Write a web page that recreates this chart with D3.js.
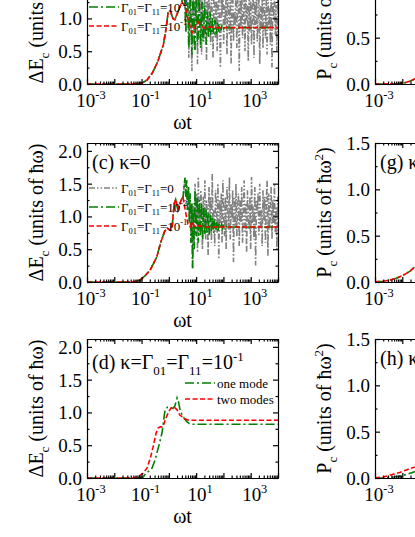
<!DOCTYPE html>
<html><head><meta charset="utf-8">
<script src="https://cdn.jsdelivr.net/npm/d3@7"></script>
<style>body{margin:0;background:#fff}svg{display:block}</style>
</head><body>
<script>
// ---------------- DATA ----------------
const xTickExps = [-3, -1, 1, 3];
const yTicksLeft = [0, 0.5, 1, 1.5, 2];
const yMinorLeft = [0.25, 0.75, 1.25, 1.75];
const yTicksRight = [0, 0.5, 1, 1.5];
const yMinorRight = [0.25, 0.75, 1.25];

// panel (b)
const bCommon = [[0.001,0],[0.05,0],[0.08,0.005],[0.1,0.01],[0.158,0.06],[0.251,0.17],[0.398,0.35],[0.631,0.6],[0.794,0.85],[0.933,1.08],[1.12,1.12],[1.41,1.0],[1.66,0.98],[2.24,1.12],[3.02,1.25]];
const bRedTail = [[3.98,1.18],[5.25,0.95],[7.08,0.78],[8.91,0.86],[11.2,0.96],[14.1,0.9],[20,0.85],[31.6,0.87],[50,0.86],[10000,0.86]];
const bGreenTail = [[3.3,1.4],[3.6,1.6],[3.9,1.2],[4.2,0.8],[4.5,1.35],[4.8,1.65],[5.1,1.0],[5.4,0.55],[5.8,1.1],[6.2,1.5],[6.6,0.8],[7.0,0.45],[7.5,1.2],[8.0,1.45],[8.5,0.7],[9.1,0.5],[9.7,1.3],[10.4,1.25],[11.1,0.6],[11.9,0.75],[12.7,1.35],[13.6,1.0],[14.5,0.55],[15.5,1.05],[16.6,1.25],[17.8,0.65],[19.0,0.8],[20.3,1.2],[21.7,0.9],[23.2,0.6],[24.8,1.1],[26.5,1.05],[28.4,0.7],[30.3,0.85],[32.4,1.1],[34.7,0.75],[37.1,0.8],[39.7,1.02],[42.4,0.8],[45.4,0.78],[48.6,0.98],[52,0.88],[55.6,0.76],[59.5,0.95],[63.6,0.9],[68,0.8],[72.8,0.9],[77.9,0.88],[83.3,0.82],[89.1,0.9],[95.3,0.86],[102,0.84],[115,0.88],[130,0.86],[160,0.86],[10000,0.86]];
const bGrayHead = [[3.3,1.4],[3.6,1.6],[3.9,1.2],[4.2,0.8],[4.5,1.35],[4.8,1.65],[5.1,1.0],[5.4,0.4],[5.8,1.1],[6.2,1.55],[6.6,0.7],[7.0,0.2],[7.5,1.1]];
const noiseT = [7.94,8.51,9.12,9.77,10.5,11.2,12.0,12.9,13.8,14.8,
  15.8,17.0,18.2,19.5,20.9,22.4,24.0,25.7,27.5,29.5,
  31.6,33.9,36.3,38.9,41.7,44.7,47.9,51.3,55.0,58.9,
  63.1,67.6,72.4,77.6,83.2,89.1,95.5,102,110,117,
  126,135,145,155,166,178,191,204,219,234,
  251,269,288,309,331,355,380,407,437,468,
  501,537,575,617,661,708,759,813,871,933,
  1000,1072,1148,1230,1318,1413,1514,1622,1738,1862,
  1995,2138,2291,2455,2630,2818,3020,3236,3467,3715,
  3981,4266,4571,4898,5248,5623,6026,6457,6918,7413,
  7943,8511,9120,9772,10000];
const bGrayE = [1.45,0.55,1.3,0.9,1.6,0.3,1.2,1.5,0.7,1.35,
  0.45,1.55,1.0,0.65,1.4,1.2,0.35,1.5,0.8,1.3,
  1.1,0.6,1.6,0.95,0.4,1.35,1.25,0.7,1.5,0.5,
  1.15,1.45,0.85,0.25,1.3,1.05,1.55,0.6,1.2,0.9,
  1.4,0.45,1.6,1.0,0.75,1.35,0.3,1.25,1.5,0.65,
  1.1,0.9,1.45,0.55,1.3,1.2,0.2,1.4,0.85,1.55,
  0.7,1.0,1.35,0.5,1.5,0.95,1.2,0.35,1.45,0.8,
  1.3,0.6,1.1,1.55,0.4,1.25,0.9,1.4,0.65,1.0,
  1.5,0.3,1.2,0.85,1.35,0.55,1.45,1.05,0.7,1.3,
  0.45,1.6,0.9,1.15,0.6,1.4,0.25,1.25,1.0,1.5,
  0.75,1.2,0.5,1.35,1.1];

// panel (c)
const cCommon = [[0.001,0],[0.05,0],[0.087,0.03],[0.13,0.09],[0.204,0.18],[0.36,0.38],[0.5,0.6],[0.71,0.78],[0.89,0.82],[1.12,0.79],[1.32,0.85],[1.58,1.2],[1.78,1.26],[2.14,1.1]];
const cRedTail = [[2.82,1.25],[3.31,1.29],[3.98,1.1],[5.0,0.88],[6.03,0.84],[7.08,0.92],[8.32,0.86],[10,0.84],[12.6,0.86],[20,0.84],[10000,0.84]];
const cGreenHead = [[2.82,1.25],[3.31,1.3],[3.9,1.59],[4.17,1.3],[4.47,1.55],[4.79,1.1],[5.25,1.45],[5.62,0.9],[6.03,1.35],[6.46,0.6],[6.92,1.2],[7.41,0.21]];
const cGreenTail = [[7.94,1.1],[8.51,0.5],[9.12,1.4],[10,0.7],[11,1.3],[12,0.6],[13.2,1.25],[14.5,0.7],[15.8,1.2],[17.4,0.65],[19,1.15],[21,0.72],[23,1.1],[25,0.75],[27.5,1.05],[30,0.7],[33,1.02],[36,0.78],[40,0.98],[44,0.75],[48,0.95],[53,0.8],[58,0.92],[64,0.78],[70,0.9],[77,0.82],[85,0.88],[93,0.82],[102,0.86],[115,0.83],[130,0.85],[150,0.84],[175,0.84],[10000,0.84]];
const cGrayE = [1.2,0.6,1.5,0.9,1.35,0.45,1.6,1.0,0.7,1.4,
  1.15,0.5,1.3,0.85,1.55,0.65,1.25,1.05,0.4,1.45,
  0.95,1.3,0.6,1.65,0.8,1.1,0.55,1.4,1.2,0.75,
  1.5,0.35,1.25,0.9,1.35,0.6,1.55,1.0,0.7,1.3,
  0.5,1.45,1.1,0.8,1.6,0.65,1.2,0.95,1.4,0.3,
  1.3,0.85,1.5,0.7,1.15,1.35,0.55,1.25,0.9,1.45,
  0.6,1.05,1.55,0.75,1.2,0.45,1.4,1.0,0.8,1.3,
  0.5,1.6,0.9,1.15,0.65,1.45,0.25,1.25,1.05,1.35,
  0.7,1.5,0.85,1.1,0.55,1.4,0.95,1.3,0.6,1.2,
  1.55,0.4,1.35,0.8,1.05,1.45,0.65,1.25,0.9,1.5,
  0.75,1.15,0.5,1.3,1.0];

// panel (d)
const dOneMode = [[0.001,0],[0.063,0],[0.112,0.01],[0.132,0.05],[0.178,0.1],[0.24,0.15],[0.316,0.28],[0.363,0.38],[0.447,0.52],[0.562,0.69],[0.724,1.04],[0.891,1.08],[1.1,1.08],[1.41,1.06],[1.66,1.1],[2.0,1.22],[2.29,1.15],[2.57,1.04],[3.16,0.95],[3.8,0.9],[4.57,0.86],[5.62,0.83],[7.08,0.82],[10,0.82],[10000,0.82]];
const dTwoModes = [[0.001,0],[0.05,0],[0.074,0.02],[0.112,0.07],[0.158,0.15],[0.209,0.3],[0.263,0.47],[0.339,0.68],[0.398,0.76],[0.479,0.78],[0.603,0.78],[0.759,0.9],[0.955,1.0],[1.2,1.07],[1.58,1.08],[2.0,1.04],[2.51,0.96],[3.16,0.93],[3.98,0.9],[5.62,0.88],[10,0.88],[10000,0.88]];

// right column (P_c)
const fCurve = [[0.001,0],[0.003,0.001],[0.005,0.002],[0.0083,0.005],[0.012,0.012],[0.019,0.03],[0.029,0.055],[0.05,0.11],[0.1,0.25]];
const gCurve = [[0.001,0.003],[0.002,0.008],[0.0035,0.02],[0.006,0.04],[0.012,0.08],[0.02,0.12],[0.03,0.17],[0.05,0.25],[0.1,0.4]];
const hRed = [[0.001,0.003],[0.002,0.01],[0.0035,0.03],[0.008,0.06],[0.015,0.09],[0.03,0.12],[0.06,0.2]];
const hGreen = [[0.001,0],[0.002,0.002],[0.004,0.008],[0.008,0.02],[0.015,0.04],[0.03,0.07],[0.06,0.13]];

// ---------------- DRAW ----------------
const W = 415, H = 537;
const FONT = '"Liberation Serif","Times New Roman",serif';
const svg = d3.select('body').append('svg').attr('width', W).attr('height', H)
  .style('font-family', FONT);
const defs = svg.append('defs');
const PH = 139;
const LX = [87, 278], RX = [375, 566];
const xDomain = [1e-3, 1e4];
const STY = {
  gray:  {c: '#808080', d: '6,2,1.5,2,1.5,2'},
  green: {c: '#008000', d: '9,3,2,3'},
  red:   {c: '#ff0000', d: '5,2.5'}
};

function rich(parent, parts, size, anchor) {
  const t = parent.append('text').attr('font-size', size).attr('text-anchor', anchor || 'start').attr('fill', '#000');
  let shift = 0;
  parts.forEach(p => {
    const s = p[0], kind = p[1];
    const target = kind === 'sub' ? size * 0.3 : kind === 'sup' ? -size * 0.42 : 0;
    const fs = kind ? size * 0.65 : size;
    t.append('tspan').attr('dy', target - shift).attr('font-size', fs).text(s);
    shift = target;
  });
  return t;
}
function place(parts, x, y, size, anchor, rot) {
  const g = svg.append('g').attr('transform', `translate(${x},${y})` + (rot ? ` rotate(${rot})` : ''));
  rich(g, parts, size, anchor);
  return g;
}

let cid = 0;
function panel(xr, bottom, yMax) {
  const x = d3.scaleLog().domain(xDomain).range(xr);
  const y = d3.scaleLinear().domain([0, yMax]).range([bottom, bottom - (PH)]);
  const id = 'clip' + (cid++);
  defs.append('clipPath').attr('id', id).append('rect')
    .attr('x', xr[0]).attr('y', bottom - PH).attr('width', xr[1] - xr[0]).attr('height', PH);
  const g = svg.append('g').attr('clip-path', `url(#${id})`);
  return {x, y, g, bottom, top: bottom - PH, xr};
}
function series(p, data, sty) {
  const line = d3.line().x(d => p.x(d[0])).y(d => p.y(d[1]));
  p.g.append('path').attr('d', line(data)).attr('fill', 'none')
    .attr('stroke', sty.c).attr('stroke-width', 1.6).attr('stroke-dasharray', sty.d);
}
function axes(p, yMajor, yMinor, showXLabels, showTitle) {
  const all = p.x.ticks();
  const majorX = all.filter(v => Math.abs(Math.log10(v) - Math.round(Math.log10(v))) < 1e-9);
  const minorX = all.filter(v => !majorX.includes(v));
  const A = svg.append('g').attr('color', '#000');
  const style = s => s.selectAll('path,line').attr('stroke-width', 1.2);
  const mk = (gen, tr, vals, size, keepDomain, fmt) => {
    const a = A.append('g').attr('transform', tr)
      .call(gen.tickValues(vals).tickSize(-size).tickSizeOuter(0).tickFormat(fmt || ''));
    if (!keepDomain) a.select('.domain').remove();
    style(a);
    return a;
  };
  mk(d3.axisBottom(p.x), `translate(0,${p.bottom})`, majorX, 5, true);
  mk(d3.axisBottom(p.x), `translate(0,${p.bottom})`, minorX, 2.5, false);
  mk(d3.axisTop(p.x), `translate(0,${p.top})`, majorX, 5, true);
  mk(d3.axisTop(p.x), `translate(0,${p.top})`, minorX, 2.5, false);
  const yl = mk(d3.axisLeft(p.y).tickPadding(5), `translate(${p.xr[0]},0)`, yMajor, 5, true, d3.format('.1f'));
  yl.selectAll('text').attr('font-size', 19).attr('font-family', FONT).attr('dy', '0.34em');
  mk(d3.axisLeft(p.y), `translate(${p.xr[0]},0)`, yMinor, 2.5, false);
  mk(d3.axisRight(p.y), `translate(${p.xr[1]},0)`, yMajor, 5, true);
  mk(d3.axisRight(p.y), `translate(${p.xr[1]},0)`, yMinor, 2.5, false);
  xTickExps.forEach(e => {
    place([['10'], [String(e), 'sup']], p.x(Math.pow(10, e)) + 4, p.bottom + 23, 19, 'middle');
  });
  if (showTitle) place([['ωt']], (p.xr[0] + p.xr[1]) / 2, p.bottom + 45, 20, 'middle');
}
function legendLine(x0, x1, y, sty) {
  svg.append('line').attr('x1', x0).attr('x2', x1).attr('y1', y).attr('y2', y)
    .attr('stroke', sty.c).attr('stroke-width', 1.6).attr('stroke-dasharray', sty.d);
}
const G = (a, b, tail) => [['Γ'], [a, 'sub'], ['=Γ'], [b, 'sub'], ['=' + tail[0]]].concat(tail[1] ? [[tail[1], 'sup']] : []);

// ---- left column ----
const rows = [84, 282, 478];
const yMaxL = 2.12;
// (b)
{
  const p = panel(LX, rows[0], yMaxL);
  series(p, bCommon.concat(bGrayHead, noiseT.map((t, i) => [t, bGrayE[i]])), STY.gray);
  series(p, bCommon.concat(bGreenTail), STY.green);
  series(p, bCommon.concat(bRedTail), STY.red);
  axes(p, yTicksLeft, yMinorLeft, true, true);
  const b = p.bottom;
  legendLine(89, 119, b - 94, STY.gray); place(G('01', '11', ['0']), 121, b - 89.5, 13);
  legendLine(89, 119, b - 77, STY.green); place(G('01', '11', ['10', '-2']), 121, b - 72.5, 13);
  legendLine(89, 119, b - 58, STY.red); place(G('01', '11', ['10', '-1']), 121, b - 53.5, 13);
}
// (c)
{
  const p = panel(LX, rows[1], yMaxL);
  series(p, cCommon.concat(cGreenHead, noiseT.map((t, i) => [t, cGrayE[i]])), STY.gray);
  series(p, cCommon.concat(cGreenHead, cGreenTail), STY.green);
  series(p, cCommon.concat(cRedTail), STY.red);
  axes(p, yTicksLeft, yMinorLeft, true, true);
  const b = p.bottom;
  place([['(c) κ=0']], 92, p.top + 26, 20);
  legendLine(89, 119, b - 94, STY.gray); place(G('01', '11', ['0']), 121, b - 89.5, 13);
  legendLine(89, 119, b - 75, STY.green); place(G('01', '11', ['10', '-2']), 121, b - 70.5, 13);
  legendLine(89, 119, b - 56, STY.red); place(G('01', '11', ['10', '-1']), 121, b - 51.5, 13);
}
// (d)
{
  const p = panel(LX, rows[2], yMaxL);
  series(p, dOneMode, STY.green);
  series(p, dTwoModes, STY.red);
  axes(p, yTicksLeft, yMinorLeft, true, true);
  const b = p.bottom;
  place([['(d) κ=Γ'], ['01', 'sub'], ['=Γ'], ['11', 'sub'], ['=10'], ['-1', 'sup']], 92, p.top + 30, 20);
  legendLine(185, 215, b - 95, STY.green); place([['one mode']], 217, b - 90.5, 13);
  legendLine(185, 215, b - 79, STY.red); place([['two modes']], 217, b - 74.5, 13);
}
// left y titles
rows.forEach(b => place([['ΔE'], ['c', 'sub'], [' (units of ħω)']], 43, b - PH / 2, 20, 'middle', -90));

// ---- right column ----
{
  const p = panel(RX, rows[0], 1.5);
  series(p, fCurve, STY.green);
  series(p, fCurve, STY.red);
  axes(p, yTicksRight, yMinorRight, true, false);
}
{
  const p = panel(RX, rows[1], 1.5);
  series(p, gCurve, STY.green);
  series(p, gCurve, STY.red);
  axes(p, yTicksRight, yMinorRight, true, false);
  place([['(g) κ=0']], 380, p.top + 26, 20);
}
{
  const p = panel(RX, rows[2], 1.5);
  series(p, hGreen, STY.green);
  series(p, hRed, STY.red);
  axes(p, yTicksRight, yMinorRight, true, false);
  place([['(h) κ=Γ'], ['01', 'sub'], ['=Γ'], ['11', 'sub'], ['=10'], ['-1', 'sup']], 380, p.top + 26, 20);
}
rows.forEach(b => place([['P'], ['c', 'sub'], [' (units of ħω'], ['2', 'sup'], [')']], 331, b - PH / 2, 20, 'middle', -90));
</script>
</body></html>
